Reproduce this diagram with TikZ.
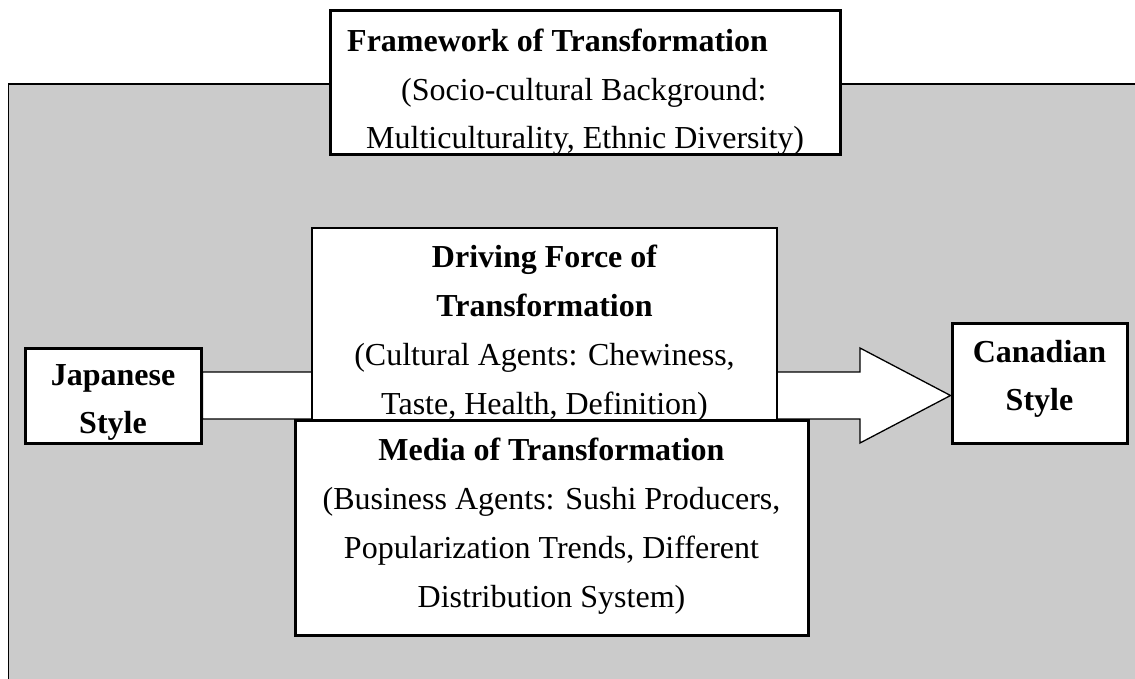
\documentclass[tikz,border=0pt]{standalone}
\usepackage{fontspec}
\setmainfont{Liberation Serif}
\usetikzlibrary{calc}
\definecolor{panel}{HTML}{CBCBCB}
\pgfdeclarelayer{panellayer}
\pgfdeclarelayer{arrowlayer}
\pgfsetlayers{panellayer,arrowlayer,main}
\begin{document}
\begin{tikzpicture}[x=1pt,y=-1pt,
  heavybox/.style={draw=black, line width=3pt, fill=white, inner sep=0pt},
  lightbox/.style={draw=black, line width=1.3pt, fill=white, inner sep=0pt},
  txt/.style={anchor=base, inner sep=0pt, font=\fontsize{32}{49}\selectfont},
  txtw/.style={txt, anchor=base west},
  head/.style={txt, font=\fontsize{32}{49}\selectfont\bfseries},
  headw/.style={head, anchor=base west},
  flow/.style={draw=black, line width=1.3pt, fill=white, line join=miter}]
\useasboundingbox (0,0) rectangle (1135,679);

% grey panel that runs off the right and bottom edges
\begin{pgfonlayer}{panellayer}
\begin{scope}
  \clip (0,0) rectangle (1135,679);
  \fill[panel] (8.5,84) rectangle (1145,690);
  \draw[line width=1.5pt] (8.5,690) -- (8.5,84) -- (1145,84);
\end{scope}
\end{pgfonlayer}

% framework box
\node[heavybox, minimum width=510pt, minimum height=144pt] (fw) at (585,83) {};
\node[headw] (fwt) at (347,52) {Framework of Transformation};
\node[txtw] (fwa) at (401,101) {(Socio-cultural Background:};
\node[txtw] (fwb) at (366,149) {Multiculturality, Ethnic Diversity)};

% end points
\node[heavybox, minimum width=176pt, minimum height=95pt] (jp) at (113,395.5) {};
\node[head] (jpa) at (113,385) {Japanese};
\node[head] (jpb) at (113,433) {Style};

\node[heavybox, minimum width=175pt, minimum height=120pt] (ca) at (1039.5,383) {};
\node[head] (caa) at (1039.5,362) {Canadian};
\node[head] (cab) at (1039.5,410) {Style};

% block arrow from the Japanese to the Canadian style
\coordinate (hb) at (860,0);
\begin{pgfonlayer}{arrowlayer}
\draw[flow] ($(jp.east)+(0,-23.5)$) -- ($(hb |- jp.east)+(0,-23.5)$)
  -- ($(hb |- jp.east)+(0,-47.5)$) -- (ca.west |- jp.east)
  -- ($(hb |- jp.east)+(0,47.5)$) -- ($(hb |- jp.east)+(0,23.5)$)
  -- ($(jp.east)+(0,23.5)$) -- cycle;
\end{pgfonlayer}

% driving force box
\node[lightbox, minimum width=465pt, minimum height=192pt] (df) at (544.5,324) {};
\node[head] (dfa) at (544.5,267) {Driving Force of};
\node[head] (dfb) at (544.5,316) {Transformation};
\node[txt] (dfc) at (544.5,365) {(Cultural Agents: Chewiness,};
\node[txt] (dfd) at (544.5,414) {Taste, Health, Definition)};

% media box
\node[heavybox, minimum width=513pt, minimum height=215pt] (md) at (551.5,527.5) {};
\node[head] (mda) at (551.5,460) {Media of Transformation};
\node[txt] (mdb) at (551.5,509) {(Business Agents: Sushi Producers,};
\node[txt] (mdc) at (551.5,558) {Popularization Trends, Different};
\node[txt] (mdd) at (551.5,607) {Distribution System)};
\end{tikzpicture}
\end{document}
